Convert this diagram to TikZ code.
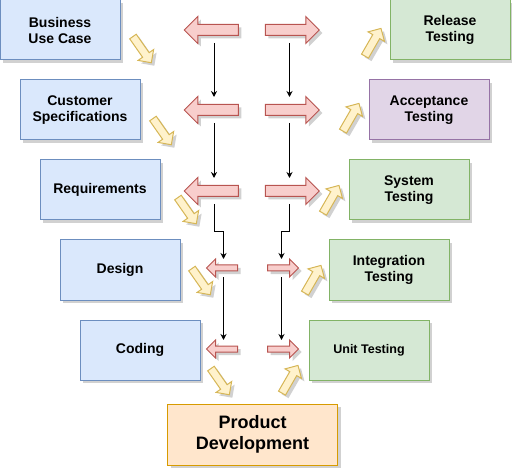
\documentclass[tikz,border=0pt]{standalone}
\usepackage{fontspec}
\setmainfont{Liberation Sans}
\usetikzlibrary{shapes.arrows, shadows, arrows.meta}

\definecolor{specfill}{HTML}{DAE8FC}
\definecolor{specline}{HTML}{6C8EBF}
\definecolor{testfill}{HTML}{D5E8D4}
\definecolor{testline}{HTML}{82B366}
\definecolor{accfill}{HTML}{E1D5E7}
\definecolor{accline}{HTML}{9673A6}
\definecolor{devfill}{HTML}{FFE6CC}
\definecolor{devline}{HTML}{D79B00}
\definecolor{redfill}{HTML}{F8CECC}
\definecolor{redline}{HTML}{B85450}
\definecolor{yelfill}{HTML}{FFF2CC}
\definecolor{yelline}{HTML}{D6B656}

\begin{document}
\begin{tikzpicture}[x=1pt, y=-1pt,
    shade/.style={drop shadow={shadow xshift=3pt, shadow yshift=-3pt, fill=black!30, opacity=0.6}},
    stage/.style={draw, line width=1pt, minimum width=120, minimum height=60, align=center, inner sep=2pt,
        font=\bfseries\fontsize{14}{16}\selectfont, shade},
    spec/.style={stage, fill=specfill, draw=specline},
    test/.style={stage, fill=testfill, draw=testline},
    bigarrow/.style={single arrow, draw=redline, fill=redfill, line width=1pt, inner xsep=0pt, inner ysep=5pt,
        minimum height=54, single arrow head extend=8, shade},
    smallarrow/.style={bigarrow, minimum height=31, inner ysep=2.5pt, single arrow head extend=6},
    flowarrow/.style={single arrow, draw=yelline, fill=yelfill, line width=1pt, inner xsep=0pt, inner ysep=3.5pt,
        minimum height=32, single arrow head extend=5.5, shade},
    conn/.style={-{Stealth[length=6pt, width=6pt]}, line width=1pt}]
    \useasboundingbox (0,0) rectangle (512,468);

    % left side: specification
    \node[spec] (bu) at (60,30) {Business\\Use Case};
    \node[spec] (cs) at (80,110) {Customer\\Specifications};
    \node[spec] (rq) at (100,190) {Requirements};
    \node[spec] (ds) at (120,270) {Design};
    \node[spec] (cd) at (140,350) {Coding};

    % right side: testing
    \node[test] (rt) at (450,30) {Release\\Testing};
    \node[stage, fill=accfill, draw=accline] (at) at (429,110) {Acceptance\\Testing};
    \node[test] (st) at (409,190) {System\\Testing};
    \node[test] (it) at (389,270) {Integration\\Testing};
    \node[test, font=\bfseries\fontsize{12.5}{15}\selectfont] (ut) at (369,350) {Unit Testing};

    % bottom
    \node[stage, fill=devfill, draw=devline, minimum width=170, minimum height=61,
        font=\bfseries\fontsize{18}{21}\selectfont] (pd) at (252.5,434.5) {Product\\Development};

    % red block arrows
    \node[bigarrow, shape border rotate=180] (la1) at (214,30) {};
    \node[bigarrow, shape border rotate=180] (la2) at (214,110) {};
    \node[bigarrow, shape border rotate=180] (la3) at (214,191) {};
    \node[smallarrow, shape border rotate=180] (la4) at (223.5,268) {};
    \node[smallarrow, shape border rotate=180] (la5) at (223.5,349) {};
    \node[bigarrow] (ra1) at (289.5,30) {};
    \node[bigarrow] (ra2) at (289.5,110) {};
    \node[bigarrow] (ra3) at (289.5,191) {};
    \node[smallarrow] (ra4) at (281.5,268) {};
    \node[smallarrow] (ra5) at (281.5,349) {};

    % yellow arrows
    \node[flowarrow, rotate=-55] (ya1) at (141,48) {};
    \node[flowarrow, rotate=-55] (ya2) at (161,130) {};
    \node[flowarrow, rotate=-55] (ya3) at (186,209) {};
    \node[flowarrow, rotate=-55] (ya4) at (200,280) {};
    \node[flowarrow, rotate=-55] (ya5) at (219,380) {};
    \node[flowarrow, rotate=60] (yb1) at (372,44) {};
    \node[flowarrow, rotate=60] (yb2) at (350,119) {};
    \node[flowarrow, rotate=60] (yb3) at (330,201) {};
    \node[flowarrow, rotate=60] (yb4) at (312,281) {};
    \node[flowarrow, rotate=60] (yb5) at (289,381) {};

    % black connectors
    \draw[conn] ([yshift=-13pt]la1.center) -- ([yshift=13pt]la2.center);
    \draw[conn] ([yshift=-13pt]la2.center) -- ([yshift=13pt]la3.center);
    \draw[conn] ([yshift=-13pt]la3.center) -- ++(0,28) -| ([yshift=9pt]la4.center);
    \draw[conn] ([yshift=-9pt]la4.center) -- ([yshift=9pt]la5.center);
    \draw[conn] ([yshift=-13pt]ra1.center) -- ([yshift=13pt]ra2.center);
    \draw[conn] ([yshift=-13pt]ra2.center) -- ([yshift=13pt]ra3.center);
    \draw[conn] ([yshift=-13pt]ra3.center) -- ++(0,28) -| ([yshift=9pt]ra4.center);
    \draw[conn] ([yshift=-9pt]ra4.center) -- ([yshift=9pt]ra5.center);
\end{tikzpicture}
\end{document}
